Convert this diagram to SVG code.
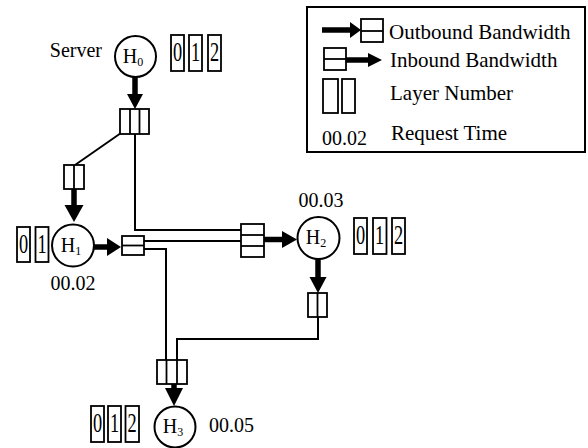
<svg xmlns="http://www.w3.org/2000/svg" width="588" height="448" viewBox="0 0 588 448" font-family="'Liberation Serif', 'Times New Roman', 'DejaVu Serif', serif">
<style>
  text { font-family: "Liberation Serif", "Times New Roman", "DejaVu Serif", serif; fill: #000; }
  .lbl { font-size: 20px; }
  .leg { font-size: 21px; }
  .h { font-size: 20px; text-anchor: middle; }
  .sub { font-size: 12px; }
  .dig { font-size: 27px; text-anchor: middle; }
  .node { fill: #fff; stroke: #000; stroke-width: 2; }
  .box { fill: #fff; stroke: #000; stroke-width: 1.8; }
  .div { stroke: #000; stroke-width: 1.8; fill: none; }
  .wire { fill: none; stroke: #000; stroke-width: 2; }
  .shaft { stroke: #000; stroke-width: 5.5; fill: none; }
  .head { fill: #000; stroke: none; }
</style>

<!-- Legend -->
<g id="legend">
  <rect x="307" y="7" width="278" height="145" fill="#fff" stroke="#000" stroke-width="2"/>
  <line class="shaft" x1="322" y1="30" x2="351" y2="30"/>
  <polygon class="head" points="350,22 361,30 350,38"/>
  <rect class="box" x="361" y="19" width="22" height="23"/>
  <line class="div" x1="361" y1="31" x2="383" y2="31"/>
  <text class="leg" x="389" y="39">Outbound Bandwidth</text>
  <rect class="box" x="324" y="48" width="22" height="22"/>
  <line class="div" x1="324" y1="59" x2="346" y2="59"/>
  <line class="shaft" x1="346" y1="60" x2="369" y2="60"/>
  <polygon class="head" points="368,53 382,60 368,67"/>
  <text class="leg" x="390" y="67">Inbound Bandwidth</text>
  <rect class="box" x="323" y="79" width="15" height="34"/>
  <rect class="box" x="342" y="79" width="13" height="34"/>
  <text class="leg" x="390" y="100">Layer Number</text>
  <text class="lbl" x="322" y="145">00.02</text>
  <text class="leg" x="391" y="140">Request Time</text>
</g>

<!-- Connectors -->
<g id="connectors">
  <line class="wire" x1="121" y1="133" x2="75" y2="165"/>
  <polyline class="wire" points="135,134 135,230 241,230"/>
  <line class="wire" x1="144" y1="241" x2="241" y2="241"/>
  <polyline class="wire" points="144,249 166,249 166,384"/>
  <polyline class="wire" points="318,317 318,339 177,339 177,384"/>

  <line class="shaft" x1="135" y1="77" x2="135" y2="95"/>
  <polygon class="head" points="127,94 143,94 135,109"/>
  <line class="shaft" x1="74" y1="189" x2="74" y2="206"/>
  <polygon class="head" points="64.5,205 83.5,205 74,222"/>
  <line class="shaft" x1="94" y1="247" x2="108" y2="247"/>
  <polygon class="head" points="107,238 121,247 107,256"/>
  <line class="shaft" x1="264" y1="239.5" x2="283" y2="239.5"/>
  <polygon class="head" points="282,231 297,239.5 282,248"/>
  <line class="shaft" x1="318" y1="259" x2="318" y2="278"/>
  <polygon class="head" points="309.5,277 326.5,277 318,293"/>
  <line class="shaft" x1="174" y1="384" x2="174" y2="389"/>
  <polygon class="head" points="165,388 183,388 174,406"/>
</g>

<!-- Bandwidth boxes -->
<g id="bw-h0-out">
  <rect class="box" x="120" y="109" width="29" height="25"/>
  <line class="div" x1="130" y1="109" x2="130" y2="134"/>
  <line class="div" x1="139.5" y1="109" x2="139.5" y2="134"/>
</g>
<g id="bw-h1-in">
  <rect class="box" x="64" y="165" width="20" height="24"/>
  <line class="div" x1="74" y1="165" x2="74" y2="189"/>
</g>
<g id="bw-h1-out">
  <rect class="box" x="122" y="236" width="22" height="19"/>
  <line class="div" x1="122" y1="245.5" x2="144" y2="245.5"/>
</g>
<g id="bw-h2-in">
  <rect class="box" x="241" y="224" width="23" height="33"/>
  <line class="div" x1="241" y1="235" x2="264" y2="235"/>
  <line class="div" x1="241" y1="246" x2="264" y2="246"/>
</g>
<g id="bw-h2-out">
  <rect class="box" x="308" y="293" width="19" height="24"/>
  <line class="div" x1="317.5" y1="293" x2="317.5" y2="317"/>
</g>
<g id="bw-h3-in">
  <rect class="box" x="157" y="360" width="30" height="24"/>
  <line class="div" x1="166.5" y1="360" x2="166.5" y2="384"/>
  <line class="div" x1="177" y1="360" x2="177" y2="384"/>
</g>

<!-- Nodes -->
<g id="H0">
  <text class="lbl" x="102" y="57" text-anchor="end">Server</text>
  <circle class="node" cx="135.5" cy="56.5" r="20.5"/>
  <text class="h" x="133" y="63">H<tspan class="sub" dy="3">0</tspan></text>
  <rect class="box" x="171" y="35" width="13" height="36"/>
  <rect class="box" x="189" y="35" width="13" height="36"/>
  <rect class="box" x="208" y="35" width="13" height="36"/>
  <text class="dig" transform="translate(177.5,61) scale(0.68,1)">0</text>
  <text class="dig" transform="translate(195.5,61) scale(0.68,1)">1</text>
  <text class="dig" transform="translate(214.5,61) scale(0.68,1)">2</text>
</g>

<g id="H1">
  <circle class="node" cx="73" cy="245.5" r="21"/>
  <text class="h" x="71" y="252">H<tspan class="sub" dy="3">1</tspan></text>
  <rect class="box" x="17" y="227" width="13" height="35"/>
  <rect class="box" x="35.5" y="227" width="13" height="35"/>
  <text class="dig" transform="translate(23.5,253) scale(0.68,1)">0</text>
  <text class="dig" transform="translate(42,253) scale(0.68,1)">1</text>
  <text class="lbl" x="73" y="290" text-anchor="middle">00.02</text>
</g>

<g id="H2">
  <circle class="node" cx="318.5" cy="238" r="21"/>
  <text class="h" x="316" y="244">H<tspan class="sub" dy="3">2</tspan></text>
  <text class="lbl" x="321" y="207" text-anchor="middle">00.03</text>
  <rect class="box" x="354" y="218" width="13" height="36"/>
  <rect class="box" x="373" y="218" width="13.5" height="36"/>
  <rect class="box" x="392" y="218" width="13" height="36"/>
  <text class="dig" transform="translate(360.5,244) scale(0.68,1)">0</text>
  <text class="dig" transform="translate(379.7,244) scale(0.68,1)">1</text>
  <text class="dig" transform="translate(398.5,244) scale(0.68,1)">2</text>
</g>

<g id="H3">
  <circle class="node" cx="175" cy="427" r="20.5"/>
  <text class="h" x="173" y="433">H<tspan class="sub" dy="3">3</tspan></text>
  <text class="lbl" x="209" y="432">00.05</text>
  <rect class="box" x="91" y="406" width="13" height="36"/>
  <rect class="box" x="108" y="406" width="13" height="36"/>
  <rect class="box" x="125.5" y="406" width="13.5" height="36"/>
  <text class="dig" transform="translate(97.5,432) scale(0.68,1)">0</text>
  <text class="dig" transform="translate(114.5,432) scale(0.68,1)">1</text>
  <text class="dig" transform="translate(132.2,432) scale(0.68,1)">2</text>
</g>
</svg>
